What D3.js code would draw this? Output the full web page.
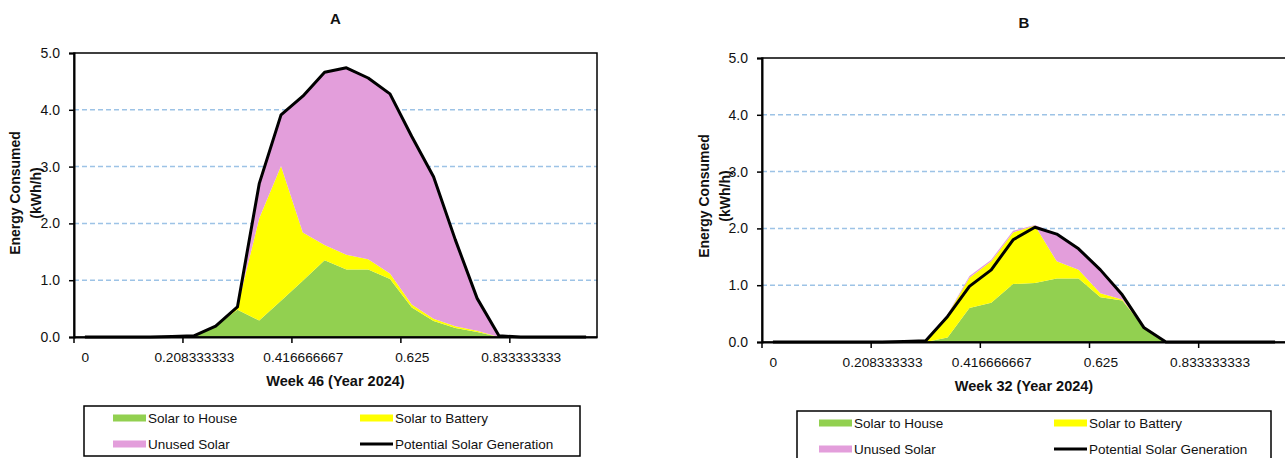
<!DOCTYPE html>
<html lang="en">
<head>
    <title>Solar usage - Week 46 vs Week 32</title>
    <script src="https://d3js.org/d3.v7.min.js"></script>
    <style>
        body { margin: 0; background: #fff; }
        text { font-family: "Liberation Sans", Arial, sans-serif; fill: #111; }
    </style>
</head>
<body>
<script>
    // hour of day (category index), 24 per day
    var categories = [0, 1, 2, 3, 4, 5, 6, 7, 8, 9, 10, 11, 12, 13, 14, 15, 16, 17, 18, 19, 20, 21, 22, 23];
    // every 5th category gets a label (fraction of the day)
    var tickCats = [0, 5, 10, 15, 20];
    var tickLabels = ["0", "0.208333333", "0.416666667", "0.625", "0.833333333"];
    var yTicks = [0, 1, 2, 3, 4, 5];

    // panel A - week 46 (kWh/h)
    var houseA     = [0, 0, 0, 0, 0, 0, 0.19, 0.48, 0.29, 0.64, 0.99, 1.35, 1.19, 1.19, 1.02, 0.52, 0.28, 0.16, 0.09, 0, 0, 0, 0, 0];
    var batteryA   = [0, 0, 0, 0, 0, 0, 0, 0.05, 1.80, 2.37, 0.85, 0.27, 0.26, 0.18, 0.10, 0.05, 0.04, 0.03, 0.02, 0, 0, 0, 0, 0];
    var unusedA    = [0, 0, 0, 0, 0.01, 0.02, 0, 0, 0.61, 0.90, 2.40, 3.04, 3.29, 3.19, 3.16, 2.96, 2.50, 1.52, 0.57, 0.02, 0, 0, 0, 0];
    var potentialA = [0, 0, 0, 0, 0.01, 0.02, 0.19, 0.53, 2.70, 3.91, 4.24, 4.66, 4.74, 4.56, 4.28, 3.53, 2.82, 1.71, 0.68, 0.02, 0, 0, 0, 0];

    // panel B - week 32 (kWh/h)
    var houseB     = [0, 0, 0, 0, 0, 0, 0, 0, 0.08, 0.60, 0.69, 1.02, 1.04, 1.12, 1.12, 0.79, 0.73, 0.25, 0, 0, 0, 0, 0, 0];
    var batteryB   = [0, 0, 0, 0, 0, 0, 0, 0.02, 0.40, 0.53, 0.73, 0.91, 1.01, 0.30, 0.15, 0.07, 0.02, 0, 0, 0, 0, 0, 0, 0];
    var unusedB    = [0, 0, 0, 0, 0, 0, 0.02, 0.01, 0.01, 0.03, 0.03, 0.03, 0.01, 0.48, 0.37, 0.41, 0.08, 0, 0, 0, 0, 0, 0, 0];
    var potentialB = [0, 0, 0, 0, 0, 0, 0.01, 0.02, 0.45, 0.98, 1.27, 1.80, 2.02, 1.90, 1.64, 1.27, 0.83, 0.25, 0, 0, 0, 0, 0, 0];

    var seriesNames = ["Solar to House", "Solar to Battery", "Unused Solar", "Potential Solar Generation"];
    var colors = ["#92d050", "#ffff00", "#e39edb", "#000000"];

    var svg = d3.select("body").append("svg")
        .attr("width", 1285)
        .attr("height", 458);

    function drawPanel(p) {
        var g = svg.append("g");

        var x = d3.scalePoint().domain(categories).range([p.left, p.right]).padding(0.5);
        var y = d3.scaleLinear().domain([0, 5]).range([p.bottom, p.top]);
        var step = x.step();

        // dashed gridlines
        g.selectAll(".grid")
            .data([1, 2, 3, 4])
            .enter()
            .append("line")
            .attr("x1", p.left).attr("x2", p.right)
            .attr("y1", function (d) { return y(d); })
            .attr("y2", function (d) { return y(d); })
            .attr("stroke", "#9dc3e6")
            .attr("stroke-width", 1.5)
            .attr("stroke-dasharray", "5,3");

        // stacked areas
        var rows = categories.map(function (c, i) {
            return { cat: c, house: p.house[i], battery: p.battery[i], unused: p.unused[i] };
        });
        var stack = d3.stack().keys(["house", "battery", "unused"]);
        var area = d3.area()
            .x(function (d) { return x(d.data.cat); })
            .y0(function (d) { return y(d[0]); })
            .y1(function (d) { return y(d[1]); });

        g.selectAll(".layer")
            .data(stack(rows))
            .enter()
            .append("path")
            .attr("d", area)
            .attr("fill", function (d, i) { return colors[i]; });

        // potential generation line
        var line = d3.line()
            .x(function (d, i) { return x(categories[i]); })
            .y(function (d) { return y(d); });

        g.append("path")
            .datum(p.potential)
            .attr("d", line)
            .attr("fill", "none")
            .attr("stroke", "#000")
            .attr("stroke-width", 3)
            .attr("stroke-linejoin", "round");

        // plot border
        g.append("rect")
            .attr("x", p.left).attr("y", p.top)
            .attr("width", p.right - p.left).attr("height", p.bottom - p.top)
            .attr("fill", "none")
            .attr("stroke", "#000")
            .attr("stroke-width", 1.5);

        // y axis
        var yAxis = d3.axisLeft(y).tickValues(yTicks).tickFormat(d3.format(".1f")).tickSize(5).tickPadding(9);
        var ya = g.append("g").attr("transform", "translate(" + p.left + ",0)").call(yAxis);
        ya.select(".domain").attr("stroke", "#000").attr("stroke-width", 2);
        ya.selectAll(".tick line").attr("stroke", "#000").attr("stroke-width", 1.5);
        ya.selectAll("text").style("font-size", "14px").attr("fill", "#111");

        // x axis: labels on category centres, ticks on category boundaries
        var xAxis = d3.axisBottom(x).tickValues(tickCats)
            .tickFormat(function (d, i) { return tickLabels[i]; })
            .tickSize(0).tickPadding(15);
        var xa = g.append("g").attr("transform", "translate(0," + p.bottom + ")").call(xAxis);
        xa.select(".domain").attr("stroke", "#000").attr("stroke-width", 2);
        xa.selectAll("text").style("font-size", "13.7px").attr("fill", "#111");

        g.selectAll(".xtick")
            .data(tickCats)
            .enter()
            .append("line")
            .attr("x1", function (d) { return x(d) - step / 2; })
            .attr("x2", function (d) { return x(d) - step / 2; })
            .attr("y1", p.bottom).attr("y2", p.bottom + 6)
            .attr("stroke", "#000").attr("stroke-width", 1.5);

        // titles
        var cx = (p.left + p.right) / 2;
        g.append("text")
            .attr("x", cx).attr("y", p.titleY)
            .attr("text-anchor", "middle")
            .style("font-size", "15px").style("font-weight", "bold")
            .text(p.title);

        g.append("text")
            .attr("x", cx).attr("y", p.xTitleY)
            .attr("text-anchor", "middle")
            .style("font-size", "14.5px").style("font-weight", "bold")
            .text(p.xTitle);

        var yt = g.append("text")
            .attr("transform", "translate(" + p.yTitleX + "," + p.yTitleY + ") rotate(-90)")
            .attr("text-anchor", "middle")
            .style("font-size", "14px").style("font-weight", "bold");
        yt.append("tspan").attr("x", 0).attr("y", 0).text("Energy Consumed");
        yt.append("tspan").attr("x", 0).attr("y", 21).text("(kWh/h)");

        // legend
        var lg = g.append("g");
        lg.append("rect")
            .attr("x", p.legX).attr("y", p.legY)
            .attr("width", p.legW).attr("height", 50)
            .attr("fill", "#fff")
            .attr("stroke", "#000").attr("stroke-width", 1.5);

        var items = lg.selectAll(".item")
            .data(seriesNames)
            .enter()
            .append("g")
            .attr("transform", function (d, i) {
                var ix = p.legX + (i % 2 === 0 ? p.legCol1 : p.legCol2);
                var iy = p.legY + 12 + Math.floor(i / 2) * 26;
                return "translate(" + ix + "," + iy + ")";
            });

        items.each(function (d, i) {
            var it = d3.select(this);
            if (i < 3) {
                it.append("rect").attr("x", 0).attr("y", -3.5).attr("width", 33).attr("height", 7).attr("fill", colors[i]);
            } else {
                it.append("line").attr("x1", 0).attr("x2", 33).attr("y1", 0).attr("y2", 0)
                    .attr("stroke", "#000").attr("stroke-width", 3);
            }
            it.append("text")
                .attr("x", 35).attr("y", 0).attr("dy", "0.35em")
                .style("font-size", "13.5px")
                .text(d);
        });
    }

    drawPanel({
        left: 74, right: 597, top: 53, bottom: 337,
        house: houseA, battery: batteryA, unused: unusedA, potential: potentialA,
        title: "A", titleY: 24,
        xTitle: "Week 46 (Year 2024)", xTitleY: 386,
        yTitleX: 20, yTitleY: 193,
        legX: 84, legY: 406, legW: 496, legCol1: 29, legCol2: 276
    });

    drawPanel({
        left: 762, right: 1286, top: 58, bottom: 342,
        house: houseB, battery: batteryB, unused: unusedB, potential: potentialB,
        title: "B", titleY: 28,
        xTitle: "Week 32 (Year 2024)", xTitleY: 391,
        yTitleX: 709, yTitleY: 196,
        legX: 797, legY: 411, legW: 474, legCol1: 22, legCol2: 257
    });
</script>
</body>
</html>
